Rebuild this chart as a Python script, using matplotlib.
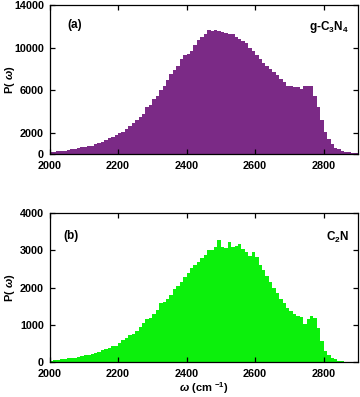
import numpy as np
import matplotlib
matplotlib.use("Agg")
import matplotlib.pyplot as plt

# bin left edges (cm^-1), 10 cm^-1 wide
omega = np.arange(2000, 2900, 10)

# panel (a): g-C3N4
p_gcn = [150, 180, 250, 300, 330, 400, 450, 520, 580, 620,
         660, 720, 800, 900, 1000, 1150, 1300, 1500, 1600, 1800,
         1950, 2100, 2400, 2650, 2900, 3200, 3500, 3800, 4400, 4600,
         5200, 5500, 6000, 6400, 7000, 7500, 7900, 8300, 8900, 9300,
         9400, 9700, 10300, 10700, 11000, 11300, 11700, 11600, 11700, 11600,
         11500, 11350, 11300, 11250, 11000, 10800, 10600, 10400, 10000, 9700,
         9300, 8900, 8600, 8300, 8000, 7700, 7400, 7100, 6800, 6400,
         6400, 6350, 6300, 6100, 6400, 6400, 6400, 5500, 4400, 3200,
         2100, 1400, 900, 600, 450, 300, 220, 150, 100, 70]

# panel (b): C2N
p_c2n = [40, 50, 60, 75, 90, 100, 110, 120, 130, 160,
         180, 190, 220, 240, 260, 320, 340, 370, 420, 440,
         520, 590, 640, 720, 760, 830, 950, 1050, 1150, 1180,
         1300, 1400, 1580, 1620, 1700, 1800, 1950, 2050, 2150, 2280,
         2400, 2520, 2600, 2700, 2800, 2880, 3000, 3020, 3100, 3270,
         3080, 3060, 3220, 3100, 3130, 3180, 3050, 2950, 2850, 2950,
         2830, 2600, 2480, 2300, 2150, 1980, 1850, 1700, 1580, 1450,
         1360, 1280, 1230, 1210, 1030, 1150, 1230, 1190, 920, 560,
         300, 190, 120, 70, 40, 25, 15, 10, 8, 5]

plt.rcParams['font.family'] = ['Liberation Sans', 'DejaVu Sans']
plt.rcParams['font.weight'] = 'bold'
plt.rcParams['mathtext.fontset'] = 'custom'
plt.rcParams['mathtext.rm'] = 'Liberation Sans:bold'
plt.rcParams['mathtext.it'] = 'Liberation Sans:italic:bold'
plt.rcParams['mathtext.bf'] = 'Liberation Sans:bold'

edges = np.append(omega, omega[-1] + 10)

fig = plt.figure(figsize=(3.6, 3.97), dpi=100)
ax1 = fig.add_axes([0.1375, 0.612, 0.857, 0.375])
ax2 = fig.add_axes([0.1375, 0.088, 0.857, 0.375])


def style(ax, yticks, ymax):
    ax.set_xlim(2000, 2900)
    ax.set_ylim(0, ymax)
    ax.set_xticks([2000, 2200, 2400, 2600, 2800])
    ax.set_yticks(yticks)
    ax.tick_params(direction='in', length=3.5, width=0.9, top=True, right=True,
                   labelsize=7.8)
    ax.tick_params(axis='x', pad=5)
    ax.tick_params(axis='y', pad=4)
    for s in ax.spines.values():
        s.set_linewidth(0.9)
    ax.set_ylabel(r'P( $\omega$)', fontsize=8, fontweight='bold')
    ax.yaxis.set_label_coords(-0.105, 0.5)


ax1.stairs(p_gcn, edges, fill=True, color='#7b2a86', linewidth=0)
style(ax1, [0, 2000, 6000, 10000, 14000], 14000)
ax1.text(0.058, 0.87, '(a)', transform=ax1.transAxes, fontsize=8.5,
         fontweight='bold', va='center')
ax1.text(0.97, 0.85, r'g-C$_{3}$N$_{4}$', transform=ax1.transAxes, fontsize=8.5,
         fontweight='bold', ha='right', va='center')

ax2.stairs(p_c2n, edges, fill=True, color='#0cf00c', linewidth=0)
style(ax2, [0, 1000, 2000, 3000, 4000], 4000)
ax2.text(0.045, 0.845, '(b)', transform=ax2.transAxes, fontsize=8.5,
         fontweight='bold', va='center')
ax2.text(0.97, 0.84, r'C$_{2}$N', transform=ax2.transAxes, fontsize=8.5,
         fontweight='bold', ha='right', va='center')
ax2.set_xlabel(r'$\omega$ (cm $^{-1}$)', fontsize=8, fontweight='bold', labelpad=1)

fig.savefig('out.png', dpi=100)
